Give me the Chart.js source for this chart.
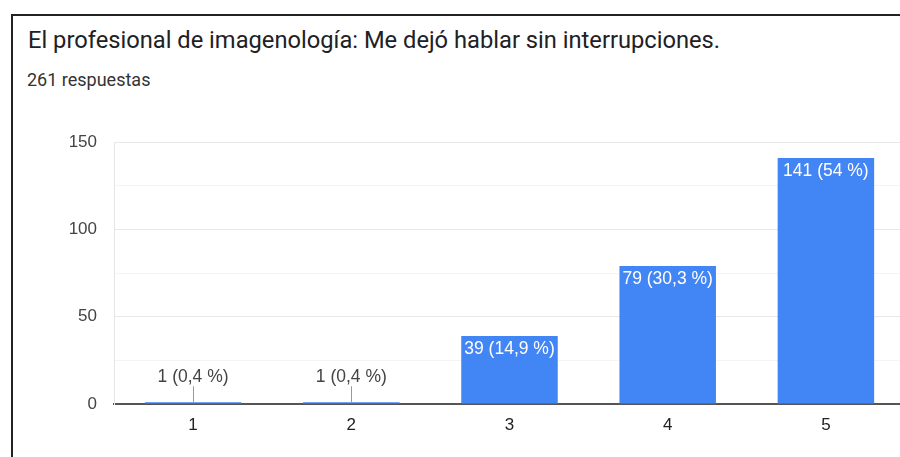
<!DOCTYPE html>
<html>
<head>
<meta charset="utf-8">
<script src="https://cdn.jsdelivr.net/npm/chart.js@4"></script>
<style>
  body { margin: 0; width: 900px; height: 457px; overflow: hidden; background: #fff; position: relative; }
  #frame { position: absolute; left: 11px; top: 14px; width: 900px; height: 460px; border-left: 2px solid #222; border-top: 2px solid #222; }
  #title { position: absolute; left: 28px; top: 26px; font: 23.7px Roboto, sans-serif; color: #202124; white-space: nowrap; }
  #sub { position: absolute; left: 27px; top: 69px; font: 18px Roboto, sans-serif; color: #333; }
  #wrap { position: absolute; left: 0; top: 115px; }
</style>
</head>
<body>
<div id="frame"></div>
<div id="title">El profesional de imagenología: Me dejó hablar sin interrupciones.</div>
<div id="sub">261 respuestas</div>
<div id="wrap"><canvas id="barChart" width="920" height="342"></canvas></div>
<script>
const categories = ['1', '2', '3', '4', '5'];
const counts = [1, 1, 39, 79, 141];
const percents = ['0,4', '0,4', '14,9', '30,3', '54'];
const yTicks = [0, 50, 100, 150];

const labelFont = '17.5px Arial, "Liberation Sans", sans-serif';

// labels on top of bars, with a leader line for the tiny ones
const barLabels = {
  id: 'barLabels',
  afterDatasetsDraw(chart) {
    const ctx = chart.ctx;
    const meta = chart.getDatasetMeta(0);
    ctx.save();
    ctx.font = labelFont;
    ctx.textAlign = 'center';
    ctx.textBaseline = 'middle';
    meta.data.forEach((bar, i) => {
      const text = counts[i] + ' (' + percents[i] + ' %)';
      if (bar.base - bar.y > 30) {
        ctx.fillStyle = '#fff';
        ctx.fillText(text, bar.x, bar.y + 13);
      } else {
        ctx.strokeStyle = '#999';
        ctx.lineWidth = 1;
        ctx.beginPath();
        ctx.moveTo(Math.round(bar.x) + 0.5, bar.y);
        ctx.lineTo(Math.round(bar.x) + 0.5, bar.y - 16);
        ctx.stroke();
        ctx.fillStyle = '#444';
        ctx.fillText(text, bar.x, bar.y - 25);
      }
    });
    ctx.restore();
  }
};

new Chart(document.getElementById('barChart').getContext('2d'), {
  type: 'bar',
  data: {
    labels: categories,
    datasets: [{
      data: counts,
      backgroundColor: '#4285f4',
      categoryPercentage: 1,
      barPercentage: 0.61
    }]
  },
  options: {
    responsive: false,
    animation: false,
    layout: { padding: { top: 17, right: 15, left: 0, bottom: 0 } },
    plugins: { legend: { display: false }, tooltip: { enabled: false } },
    scales: {
      x: {
        grid: { display: false },
        border: { color: '#555', width: 2 },
        ticks: { padding: 3, color: '#222', font: { family: 'Arial, "Liberation Sans"', size: 17 } },
        afterFit: (s) => { s.height = 53; }
      },
      y: {
        min: 0,
        max: 150,
        ticks: {
          stepSize: 25,
          padding: 17,
          color: '#444',
          font: { family: 'Arial, "Liberation Sans"', size: 17 },
          callback: (v) => yTicks.includes(v) ? v : ''
        },
        grid: {
          drawTicks: false,
          color: (c) => c.tick.value === 0 ? 'rgba(0,0,0,0)' : (c.tick.value % 50 === 0 ? '#e8e8e8' : '#f4f4f4')
        },
        border: { color: '#e6e6e6', width: 1 },
        afterFit: (s) => { s.width = 114; }
      }
    }
  },
  plugins: [barLabels]
});
</script>
</body>
</html>
